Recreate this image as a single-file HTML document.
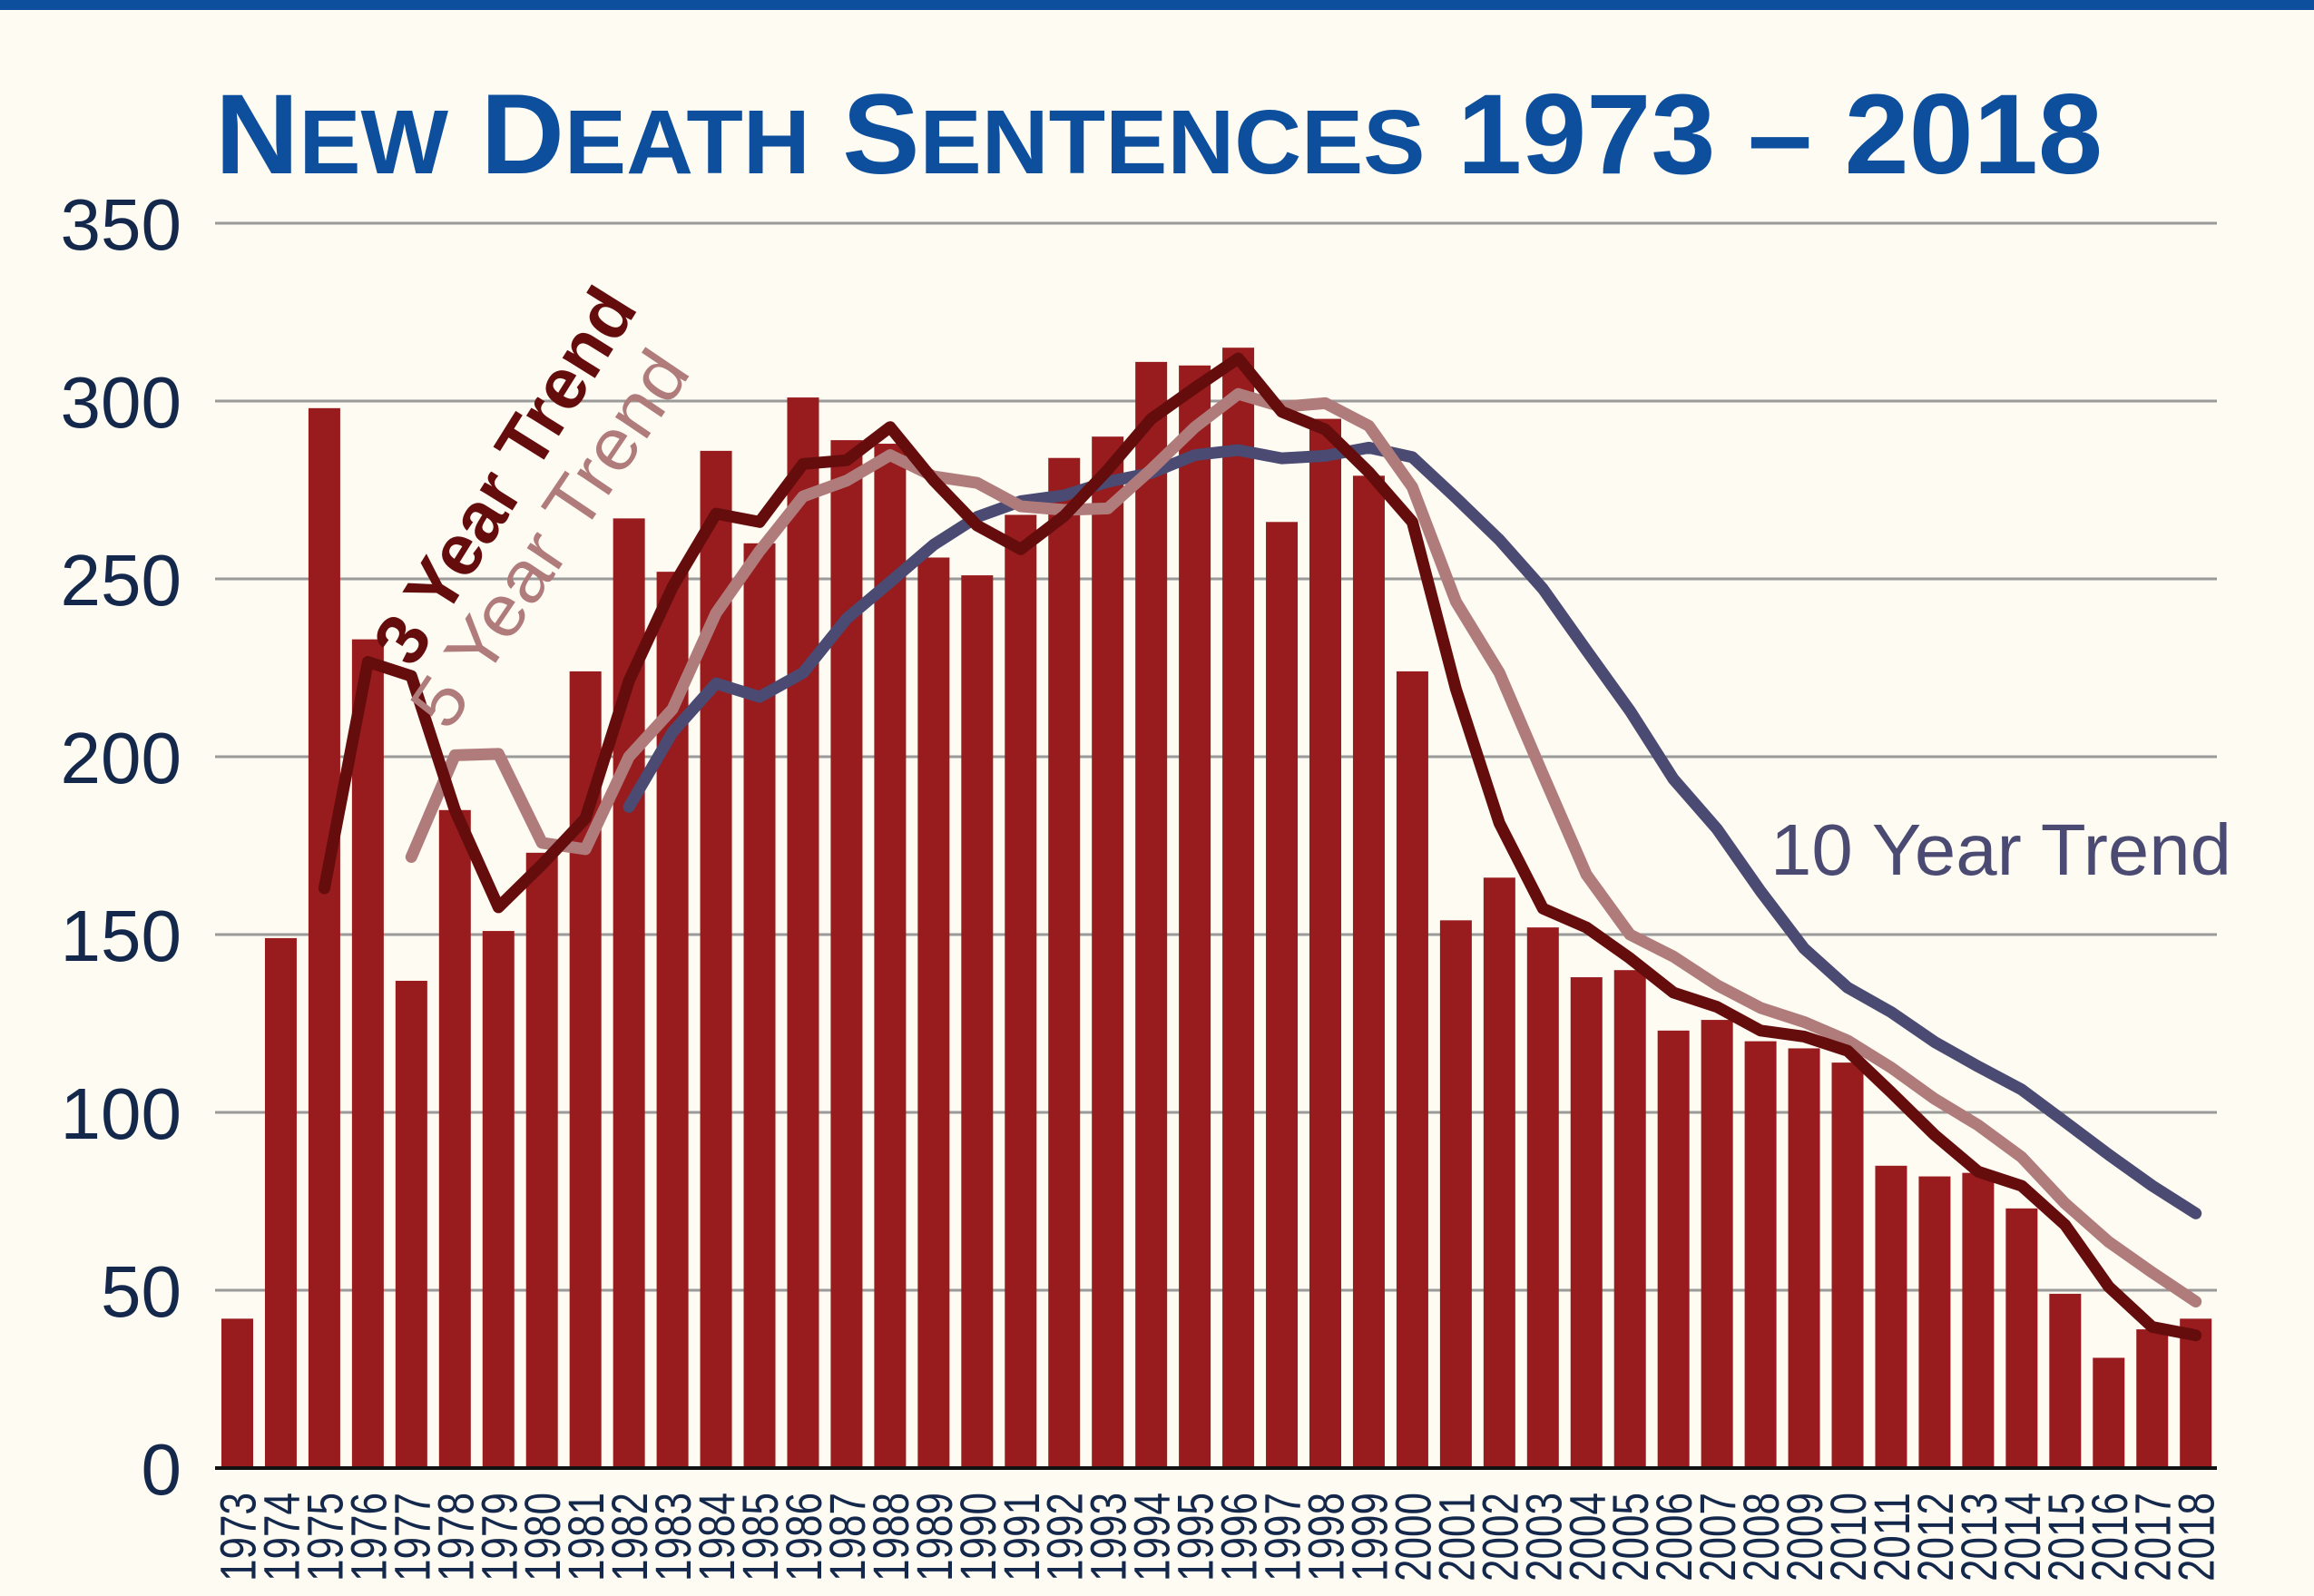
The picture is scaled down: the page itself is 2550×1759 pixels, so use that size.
<!DOCTYPE html>
<html><head><meta charset="utf-8">
<style>
html,body{margin:0;padding:0;background:#fefbf3;}
svg{display:block;}
</style></head>
<body>
<svg id="c" width="2550" height="1759" viewBox="0 0 2550 1759" xmlns="http://www.w3.org/2000/svg" font-family="'Liberation Sans', sans-serif">
<rect x="0" y="0" width="2550" height="1759" fill="#fefbf3"/>
<rect x="0" y="0" width="2550" height="11" fill="#0d4f9c"/>
<text x="237" y="191" fill="#0d4f9c" font-weight="bold" font-size="125" textLength="2080" lengthAdjust="spacingAndGlyphs">N<tspan font-size="100">EW</tspan> D<tspan font-size="100">EATH</tspan> S<tspan font-size="100">ENTENCES</tspan> 1973 – 2018</text>
<g id="grid" stroke="#9a9a98" stroke-width="3"></g>
<g id="ylab" fill="#14284b" font-size="80" text-anchor="end"></g>
<g id="bars" fill="#981b1e"></g>
<line x1="237" y1="1618" x2="2443" y2="1618" stroke="#111" stroke-width="4"/>
<g id="xlab" fill="#14284b" font-size="56" text-anchor="end"></g>
<g id="lines" fill="none" stroke-linejoin="round" stroke-linecap="round" stroke-width="13"></g>
<text transform="translate(455,738) rotate(-58)" fill="#650d0d" font-weight="bold" font-size="80" textLength="470" lengthAdjust="spacingAndGlyphs">3 Year Trend</text>
<text transform="translate(494,808) rotate(-56)" fill="#b07b7b" font-size="80" textLength="480" lengthAdjust="spacingAndGlyphs">5 Year Trend</text>
<text x="1951" y="964" fill="#4a4a72" font-size="80" textLength="508" lengthAdjust="spacingAndGlyphs">10 Year Trend</text>
</svg>
<script>
var d=[42,149,298,233,137,185,151,173,224,267,252,286,260,301,289,288,256,251,268,284,290,311,310,315,266,295,279,224,154,166,152,138,140,123,126,120,118,114,85,82,83,73,49,31,39,42];
var NS="http://www.w3.org/2000/svg";
function el(t,a,p,txt){var e=document.createElementNS(NS,t);for(var k in a)e.setAttribute(k,a[k]);if(txt)e.textContent=txt;document.getElementById(p).appendChild(e);return e;}
function Y(v){return 1618-v*3.92;}
function X(i){return 261.5+47.96*i;}
for(var v=50;v<=350;v+=50){el('line',{x1:237,x2:2443,y1:Y(v),y2:Y(v)},'grid');}
for(var v=0;v<=350;v+=50){el('text',{x:200,y:Y(v)+29},'ylab',String(v));}
for(var i=0;i<d.length;i++){
 el('rect',{x:X(i)-17.5,y:Y(d[i]),width:35,height:d[i]*3.92},'bars');
 el('text',{transform:'translate('+(X(i)+20)+',1645) rotate(-90)',textLength:98,lengthAdjust:'spacingAndGlyphs'},'xlab',String(1973+i));
}
function trend(n,col){var pts=[];for(var i=n-1;i<d.length;i++){var s=0;for(var j=i-n+1;j<=i;j++)s+=d[j];pts.push(X(i).toFixed(1)+','+Y(s/n).toFixed(1));}
 el('polyline',{points:pts.join(' '),stroke:col},'lines');}
trend(10,'#4a4a72');trend(5,'#b07b7b');trend(3,'#650d0d');
</script>
</body></html>
